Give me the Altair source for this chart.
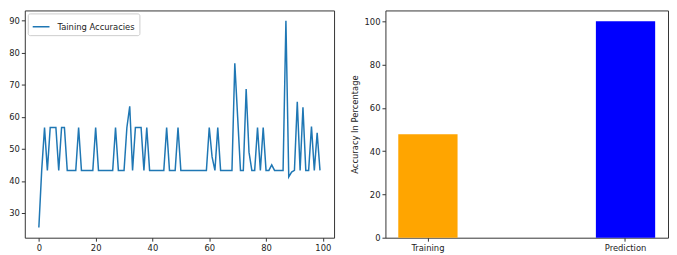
import altair as alt
import pandas as pd

# ---- data ----
epochs = list(range(100))
train_acc = [
    25.5, 43.3, 56.7, 43.3, 56.7, 56.7, 56.7, 43.3, 56.7, 56.7,   # 0-9
    43.3, 43.3, 43.3, 43.3, 56.7, 43.3, 43.3, 43.3, 43.3, 43.3,   # 10-19
    56.7, 43.3, 43.3, 43.3, 43.3, 43.3, 43.3, 56.7, 43.3, 43.3,   # 20-29
    43.3, 56.7, 63.3, 43.3, 56.7, 56.7, 56.7, 43.3, 56.7, 43.3,   # 30-39
    43.3, 43.3, 43.3, 43.3, 43.3, 56.7, 43.3, 43.3, 43.3, 56.7,   # 40-49
    43.3, 43.3, 43.3, 43.3, 43.3, 43.3, 43.3, 43.3, 43.3, 43.3,   # 50-59
    56.7, 47.5, 43.3, 56.7, 43.3, 43.3, 43.3, 43.3, 43.3, 76.7,   # 60-69
    60.0, 43.3, 43.3, 68.7, 49.0, 43.3, 43.3, 56.7, 43.3, 56.7,   # 70-79
    43.3, 43.3, 45.0, 43.3, 43.3, 43.3, 43.3, 90.0, 41.3, 42.8,   # 80-89
    43.3, 64.7, 43.3, 63.0, 43.3, 43.3, 57.0, 43.3, 55.0, 43.3,   # 90-99
]
series_name = "Taining Accuracies"

bar_labels = ["Training", "Prediction"]
bar_values = [47.8, 100.0]

# ---- styles ----
LINE_COLOR = "#1f77b4"
BAR_COLORS = ["#FFA500", "#0000FF"]
FONT = "DejaVu Sans"
FS = 8.5

df_line = pd.DataFrame({"epoch": epochs, "acc": train_acc, "series": series_name})
df_bar = pd.DataFrame({"label": bar_labels, "value": bar_values})

axis_common = dict(
    grid=False, domain=False, ticks=True, tickSize=3.5, tickColor="#333",
    labelFont=FONT, labelFontSize=FS, labelColor="#222", labelPadding=2,
    titleFont=FONT, titleFontSize=FS, titleColor="#222", titleFontWeight="normal",
)

left = alt.Chart(df_line).mark_line(strokeWidth=1.5).encode(
    x=alt.X("epoch:Q",
            scale=alt.Scale(domain=[-4.95, 103.95], nice=False, zero=False),
            axis=alt.Axis(values=[0, 20, 40, 60, 80, 100], title=None, **axis_common)),
    y=alt.Y("acc:Q",
            scale=alt.Scale(domain=[22.3, 93.2], nice=False, zero=False),
            axis=alt.Axis(values=[30, 40, 50, 60, 70, 80, 90], title=None, **axis_common)),
    color=alt.Color("series:N",
                    scale=alt.Scale(domain=[series_name], range=[LINE_COLOR]),
                    legend=alt.Legend(
                        title=None, orient="top-left", offset=3,
                        fillColor="white", strokeColor="#cccccc", cornerRadius=2,
                        padding=4, symbolType="stroke", symbolSize=289,
                        symbolStrokeWidth=1.5, labelFont=FONT, labelFontSize=FS,
                        labelColor="#222", labelOffset=7)),
).properties(width=313, height=230)

right = alt.Chart(df_bar).mark_bar().encode(
    x=alt.X("label:N", sort=bar_labels,
            scale=alt.Scale(paddingInner=0.7, paddingOuter=0.065),
            axis=alt.Axis(title=None, labelAngle=0, **axis_common)),
    y=alt.Y("value:Q",
            scale=alt.Scale(domain=[0, 105], nice=False),
            axis=alt.Axis(values=[0, 20, 40, 60, 80, 100],
                          title="Accuracy In Percentage", titlePadding=5, **axis_common)),
    color=alt.Color("label:N", scale=alt.Scale(domain=bar_labels, range=BAR_COLORS), legend=None),
).properties(width=286, height=230)

chart = alt.hconcat(left, right, spacing=52, bounds="flush").resolve_scale(
    color="independent"
).resolve_legend(color="independent").properties(
    padding={"left": 0, "top": 0, "right": 0, "bottom": 0}
).configure_view(stroke="#333", strokeWidth=1)

chart.save("out.html", embed_options={"renderer": "svg", "actions": False})
